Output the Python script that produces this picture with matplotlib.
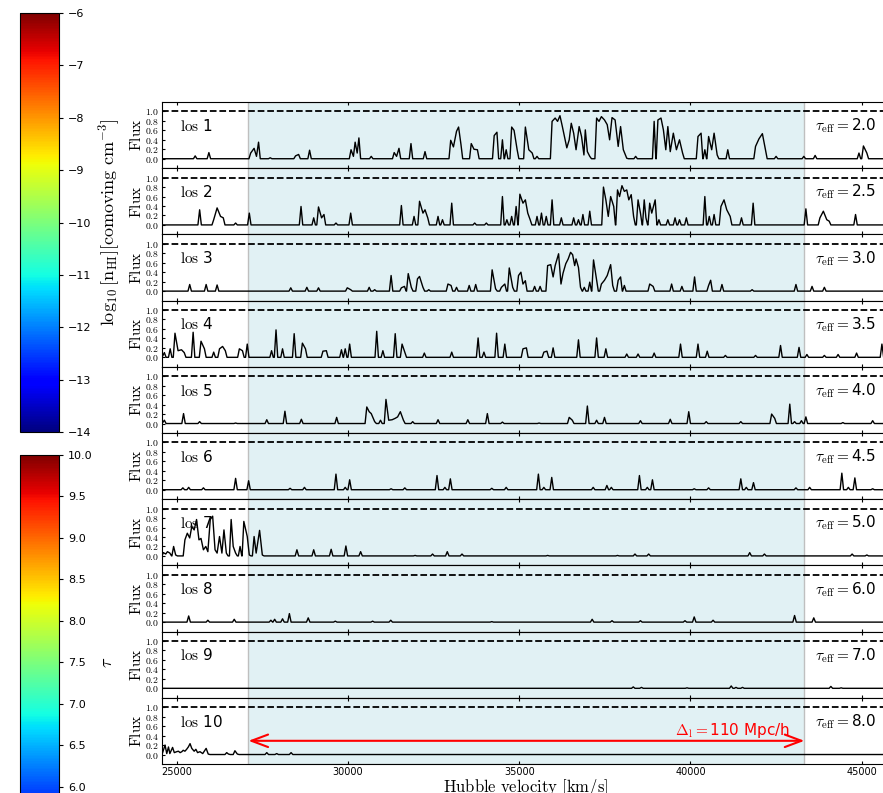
import numpy as np
import matplotlib
matplotlib.use("Agg")
import matplotlib.pyplot as plt
from matplotlib import colors, colorbar

plt.rcParams['mathtext.fontset'] = 'cm'

# velocity window of the plot and the 110 Mpc/h box
V_LO, V_HI = 24571, 45826
box_lo, box_hi = 27095, 43327
tau_eff = [2.0, 2.5, 3.0, 3.5, 4.0, 4.5, 5.0, 6.0, 7.0, 8.0]

# spectra: vertices (Hubble velocity [km/s], flux);
# stretches between isolated vertices sit on the zero-flux baseline
los1_v = [25540, 25940, 27160, 27260, 27330, 27390, 27730, 28470, 28560, 28880,
          30090, 30160, 30210, 30270, 30320, 30680, 31350, 31420, 31490, 31840,
          32250, 33000, 33080, 33170, 33230, 33300, 33600, 33680, 33780, 34270,
          34350, 34510, 34620, 34780, 34850, 34940, 35180, 35280, 35380, 35520,
          35960, 36050, 36120, 36190, 36260, 36320, 36390, 36460, 36520, 36590,
          36660, 36750, 36820, 36890, 36930, 36990, 37060, 37260, 37330, 37400,
          37490, 37570, 37640, 37710, 37800, 37890, 37960, 38040, 38140, 38400,
          38940, 39050, 39140, 39210, 39280, 39340, 39410, 39500, 39590, 39680,
          39770, 40220, 40310, 40420, 40530, 40620, 40690, 40780, 41090, 41900,
          42000, 42100, 42190, 42500, 43310, 43640, 44920, 45050, 45150]
los1_f = [0.06, 0.13, 0.12, 0.22, 0.05, 0.35, 0.02, 0.06, 0.09, 0.18,
          0.19, 0.05, 0.35, 0.12, 0.44, 0.05, 0.13, 0.05, 0.22, 0.32,
          0.15, 0.39, 0.25, 0.58, 0.67, 0.30, 0.32, 0.20, 0.19, 0.49,
          0.56, 0.40, 0.19, 0.67, 0.60, 0.19, 0.67, 0.19, 0.12, 0.05,
          0.79, 0.86, 0.79, 0.91, 0.68, 0.47, 0.23, 0.40, 0.75, 0.54,
          0.19, 0.68, 0.47, 0.08, 0.61, 0.15, 0.05, 0.86, 0.79, 0.89,
          0.82, 0.72, 0.40, 0.87, 0.82, 0.26, 0.68, 0.19, 0.01, 0.05,
          0.79, 0.82, 0.86, 0.61, 0.19, 0.68, 0.15, 0.54, 0.19, 0.40,
          0.12, 0.47, 0.54, 0.19, 0.47, 0.19, 0.54, 0.08, 0.19, 0.26,
          0.42, 0.53, 0.19, 0.05, 0.05, 0.07, 0.12, 0.27, 0.12]

los2_v = [25670, 26080, 26180, 26280, 26360, 26720, 27120, 28630, 29000, 29140,
          29230, 29300, 29650, 30080, 31560, 31930, 32090, 32190, 32250, 32330,
          32630, 32760, 33030, 33700, 34040, 34510, 34640, 34780, 34910, 35020,
          35110, 35180, 35250, 35320, 35520, 35650, 35790, 35960, 36230, 36590,
          36730, 36860, 37060, 37460, 37530, 37600, 37670, 37760, 37870, 37930,
          38000, 38070, 38140, 38200, 38270, 38340, 38470, 38540, 38650, 38700,
          38810, 38870, 38970, 39080, 39340, 39550, 39680, 39880, 40420, 40550,
          40690, 40890, 40980, 41060, 41160, 41490, 41830, 43370, 43780, 43880,
          43980, 44050, 44820]
los2_f = [0.32, 0.11, 0.36, 0.18, 0.15, 0.04, 0.25, 0.39, 0.15, 0.38,
          0.15, 0.22, 0.04, 0.25, 0.41, 0.18, 0.50, 0.25, 0.32, 0.15,
          0.18, 0.11, 0.46, 0.04, 0.04, 0.60, 0.11, 0.18, 0.39, 0.65,
          0.46, 0.53, 0.25, 0.11, 0.18, 0.25, 0.18, 0.53, 0.15, 0.15,
          0.11, 0.22, 0.29, 0.80, 0.53, 0.18, 0.60, 0.39, 0.74, 0.60,
          0.83, 0.71, 0.74, 0.53, 0.64, 0.18, 0.53, 0.25, 0.53, 0.15,
          0.46, 0.25, 0.53, 0.11, 0.11, 0.15, 0.11, 0.15, 0.60, 0.18,
          0.22, 0.39, 0.53, 0.32, 0.18, 0.15, 0.46, 0.34, 0.15, 0.29,
          0.11, 0.08, 0.22]

los3_v = [25380, 25860, 26180, 28330, 28800, 29140, 29980, 30080, 30620, 30780,
          31260, 31560, 31650, 31760, 31850, 32030, 32090, 32190, 32360, 32920,
          33010, 33170, 33540, 33730, 34210, 34310, 34480, 34580, 34710, 34810,
          34980, 35050, 35110, 35180, 35450, 35610, 35830, 35920, 35990, 36050,
          36150, 36220, 36280, 36360, 36430, 36500, 36560, 36620, 36660, 36730,
          36790, 36900, 37060, 37170, 37260, 37400, 37490, 37570, 37670, 37730,
          37890, 37960, 38070, 38810, 38910, 39450, 39750, 40120, 40530, 40590,
          40920, 41800, 43080, 43550, 43910]
los3_f = [0.14, 0.14, 0.13, 0.07, 0.08, 0.07, 0.07, 0.03, 0.08, 0.03,
          0.33, 0.07, 0.10, 0.37, 0.08, 0.26, 0.31, 0.08, 0.03, 0.15,
          0.12, 0.08, 0.12, 0.14, 0.45, 0.05, 0.08, 0.15, 0.49, 0.08,
          0.33, 0.40, 0.15, 0.22, 0.10, 0.10, 0.54, 0.56, 0.30, 0.54,
          0.79, 0.15, 0.38, 0.58, 0.68, 0.82, 0.77, 0.54, 0.68, 0.50,
          0.08, 0.08, 0.19, 0.66, 0.23, 0.15, 0.23, 0.33, 0.56, 0.12,
          0.23, 0.30, 0.12, 0.15, 0.10, 0.15, 0.10, 0.30, 0.12, 0.23,
          0.14, 0.03, 0.14, 0.10, 0.08]

los4_v = [24640, 24810, 24950, 25040, 25140, 25220, 25480, 25710, 25810, 26080,
          26250, 26340, 26420, 26830, 26920, 27060, 27770, 27900, 28090, 28430,
          28670, 28760, 29270, 29370, 29810, 29920, 30050, 30840, 31020, 31380,
          31580, 31660, 32230, 33030, 33800, 33970, 34340, 34580, 35110, 35210,
          35720, 35810, 35990, 36730, 37260, 37530, 38140, 38470, 38940, 39710,
          40220, 40490, 41020, 41900, 42630, 43170, 43400, 43910, 44310, 44850,
          45590]
los4_f = [0.10, 0.18, 0.51, 0.14, 0.16, 0.10, 0.53, 0.34, 0.18, 0.11,
          0.18, 0.23, 0.14, 0.18, 0.14, 0.28, 0.14, 0.58, 0.18, 0.50,
          0.30, 0.18, 0.13, 0.14, 0.16, 0.18, 0.28, 0.55, 0.14, 0.50,
          0.28, 0.11, 0.09, 0.11, 0.41, 0.11, 0.51, 0.28, 0.18, 0.20,
          0.11, 0.13, 0.20, 0.37, 0.41, 0.18, 0.07, 0.07, 0.09, 0.28,
          0.28, 0.13, 0.04, 0.04, 0.25, 0.21, 0.06, 0.04, 0.06, 0.09,
          0.28]

los5_v = [24640, 25200, 25670, 26720, 27630, 28160, 28640, 29670, 30550, 30620,
          30680, 30780, 30950, 31110, 31190, 31290, 31380, 31450, 31530, 31620,
          31890, 32630, 33500, 34070, 34510, 35580, 36460, 36550, 36990, 37260,
          37490, 38540, 39410, 39950, 40460, 41470, 42370, 42460, 42900, 43040,
          43240, 43370, 44450, 45320]
los5_f = [0.07, 0.21, 0.04, 0.01, 0.08, 0.26, 0.09, 0.13, 0.35, 0.25,
          0.21, 0.04, 0.07, 0.51, 0.07, 0.08, 0.11, 0.14, 0.25, 0.07,
          0.04, 0.08, 0.08, 0.21, 0.03, 0.01, 0.13, 0.07, 0.37, 0.07,
          0.13, 0.06, 0.09, 0.25, 0.04, 0.04, 0.20, 0.11, 0.41, 0.04,
          0.06, 0.14, 0.02, 0.06]

los6_v = [25180, 25350, 25780, 26720, 27100, 28310, 28730, 29650, 29920, 30050,
          31260, 31660, 32600, 32830, 32990, 34200, 34620, 35560, 35720, 35950,
          37160, 37560, 37690, 38510, 38740, 38890, 40110, 40530, 41470, 41630,
          41840, 43080, 43480, 44420, 44610, 44800, 45320]
los6_f = [0.04, 0.05, 0.04, 0.24, 0.19, 0.03, 0.05, 0.33, 0.05, 0.21,
          0.02, 0.04, 0.30, 0.05, 0.23, 0.03, 0.05, 0.33, 0.05, 0.26,
          0.05, 0.09, 0.05, 0.30, 0.05, 0.21, 0.02, 0.04, 0.23, 0.05,
          0.15, 0.04, 0.05, 0.35, 0.05, 0.25, 0.02]

los7_v = [24610, 24680, 24730, 24800, 24910, 24970, 25240, 25310, 25380, 25440,
          25510, 25580, 25650, 25710, 25780, 25850, 25910, 25980, 26050, 26120,
          26180, 26250, 26320, 26380, 26450, 26590, 26650, 26720, 26850, 26960,
          27060, 27120, 27260, 27320, 27420, 27500, 28510, 29000, 29510, 29940,
          30370, 31960, 32470, 32900, 33330, 35830, 37870, 38380, 38780, 41730,
          42160, 44720, 45150]
los7_f = [0.07, 0.04, 0.09, 0.06, 0.20, 0.02, 0.34, 0.48, 0.38, 0.62,
          0.55, 0.77, 0.34, 0.37, 0.13, 0.20, 0.09, 0.77, 0.84, 0.13,
          0.06, 0.41, 0.06, 0.55, 0.06, 0.77, 0.20, 0.06, 0.20, 0.73,
          0.41, 0.02, 0.41, 0.06, 0.54, 0.02, 0.13, 0.13, 0.14, 0.21,
          0.09, 0.01, 0.04, 0.09, 0.04, 0.01, 0.01, 0.04, 0.04, 0.07,
          0.04, 0.04, 0.02]

los8_v = [25350, 25910, 26680, 27750, 27860, 28090, 28290, 28840, 29630, 30720,
          31250, 34200, 37130, 37710, 38540, 39840, 40110, 40660, 43040, 43600]
los8_f = [0.13, 0.04, 0.06, 0.04, 0.06, 0.07, 0.18, 0.09, 0.02, 0.02,
          0.04, 0.01, 0.06, 0.03, 0.03, 0.03, 0.11, 0.04, 0.14, 0.09]

los9_v = [38330, 38570, 39900, 41190, 41330, 41520, 44100, 44400]
los9_f = [0.03, 0.02, 0.01, 0.05, 0.02, 0.02, 0.04, 0.01]

los10_v = [24660, 24710, 24760, 24800, 24880, 24930, 25000, 25050, 25100, 25150,
           25190, 25240, 25290, 25340, 25390, 25440, 25510, 25560, 25610, 25680,
           25760, 25860, 25920, 26460, 26510, 26700, 26770, 27630, 27920, 28340]
los10_f = [0.20, 0.02, 0.16, 0.02, 0.15, 0.04, 0.06, 0.07, 0.04, 0.06,
           0.09, 0.07, 0.11, 0.16, 0.23, 0.13, 0.07, 0.11, 0.04, 0.06,
           0.02, 0.13, 0.01, 0.04, 0.01, 0.08, 0.01, 0.04, 0.02, 0.04]

spectra = [(los1_v, los1_f), (los2_v, los2_f), (los3_v, los3_f), (los4_v, los4_f),
           (los5_v, los5_f), (los6_v, los6_f), (los7_v, los7_f), (los8_v, los8_f),
           (los9_v, los9_f), (los10_v, los10_f)]


def trace(v, f, w=50.0):
    # join the read-off vertices, dropping to the baseline between isolated ones
    xs, ys = [V_LO], [0.0]
    for vi, fi in zip(v, f):
        if vi - xs[-1] > 2 * w:
            xs += [xs[-1] + w, vi - w]
            ys += [0.0, 0.0]
        xs.append(vi)
        ys.append(fi)
    xs += [xs[-1] + w, V_HI]
    ys += [0.0, 0.0]
    return xs, ys


fig = plt.figure(figsize=(8.83, 7.93), dpi=100)

# colour bars on the left
cax1 = fig.add_axes([0.0226, 0.4552, 0.0442, 0.5284])
cb1 = colorbar.ColorbarBase(cax1, cmap='jet', norm=colors.Normalize(-14, -6),
                            ticks=list(range(-14, -5)))
cb1.set_label(r'$\log_{10}[\rm n_{HI}][\rm comoving\ cm^{-3}]$', fontsize=13)
cb1.ax.tick_params(labelsize=8, length=3)

cax2 = fig.add_axes([0.0226, -0.0967, 0.0442, 0.5233])
cb2 = colorbar.ColorbarBase(cax2, cmap='jet', norm=colors.Normalize(5, 10),
                            ticks=[6.0, 6.5, 7.0, 7.5, 8.0, 8.5, 9.0, 9.5, 10.0],
                            format='%.1f')
cb2.set_label(r'$\tau$', fontsize=13)
cb2.ax.tick_params(labelsize=8, length=3)

# stacked flux panels
bottom, top = 0.0366, 0.8714
h = (top - bottom) / 10
left, width = 162 / 883, (890 - 162) / 883

for i, (v, f) in enumerate(spectra):
    ax = fig.add_axes([left, bottom + (9 - i) * h, width, h])
    ax.axvspan(box_lo, box_hi, facecolor='#e1f1f4', edgecolor='#bfbfbf', lw=1, zorder=0)
    ax.axhline(1.0, color='k', ls='--', lw=1.3)
    xs, ys = trace(v, f)
    ax.plot(xs, ys, color='k', lw=1.0)
    ax.set_xlim(V_LO, V_HI)
    ax.set_ylim(-0.2, 1.2)
    ax.set_yticks([0.0, 0.2, 0.4, 0.6, 0.8, 1.0])
    ax.set_yticklabels([r'$%.1f$' % t for t in [0.0, 0.2, 0.4, 0.6, 0.8, 1.0]], fontsize=7)
    ax.set_xticks([25000, 30000, 35000, 40000, 45000])
    ax.tick_params(direction='in', top=True, right=True, length=2.5, pad=2)
    ax.set_ylabel(r'$\rm Flux$', fontsize=11, labelpad=1)
    ax.text(0.025, 0.64, r'$\mathrm{los}$ %d' % (i + 1), transform=ax.transAxes,
            fontsize=11, va='center', ha='left')
    ax.text(0.897, 0.64, r'$\tau_{\rm eff}=$%.1f' % tau_eff[i], transform=ax.transAxes,
            fontsize=11, va='center', ha='left')
    if i < 9:
        ax.set_xticklabels([])
    else:
        ax.set_xticklabels(['25000', '30000', '35000', '40000', '45000'], fontsize=7)
        ax.set_xlabel(r'$\rm Hubble\ velocity\ [km/s]$', fontsize=12, labelpad=0)
        ax.annotate('', xy=(box_lo, 0.29), xytext=(box_hi, 0.29),
                    arrowprops=dict(arrowstyle='<->,head_length=1.2,head_width=0.45',
                                    color='red', lw=1.5, shrinkA=0, shrinkB=0))
        ax.text(42910, 0.31, r'$\Delta_{\rm l}=$110 Mpc/h', color='red',
                fontsize=11, ha='right', va='bottom')

fig.savefig('out.png', dpi=100)
